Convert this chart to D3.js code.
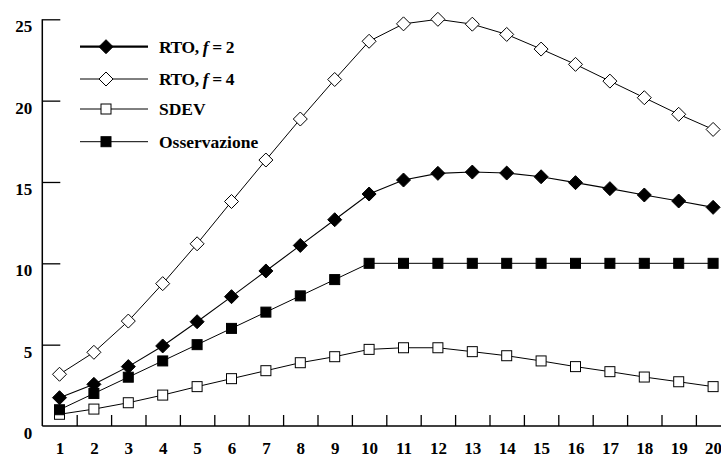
<!DOCTYPE html>
<html>
<head>
<meta charset="utf-8">
<script src="https://cdn.jsdelivr.net/npm/d3@7"></script>
<style>
  body { margin: 0; background: #fff; }
  svg { display: block; }
  text { font-family: "Liberation Serif", "Times New Roman", serif; font-weight: bold; fill: #000; }
</style>
</head>
<body>
<div id="chart"></div>
<script>
// x categories and series values
const steps = d3.range(1, 21);
const rtoF2 = [1.74, 2.56, 3.65, 4.92, 6.41, 7.95, 9.53, 11.1, 12.68, 14.26,
               15.12, 15.53, 15.61, 15.55, 15.32, 14.96, 14.59, 14.2, 13.83, 13.44];
const rtoF4 = [3.18, 4.53, 6.45, 8.75, 11.2, 13.8, 16.35, 18.87, 21.3, 23.65,
               24.72, 25.0, 24.7, 24.07, 23.17, 22.23, 21.2, 20.18, 19.16, 18.23];
const sdev = [0.72, 1.04, 1.43, 1.9, 2.42, 2.91, 3.4, 3.89, 4.26, 4.71,
              4.81, 4.81, 4.57, 4.32, 4.0, 3.65, 3.34, 3.01, 2.72, 2.42];
const osservazione = [1, 2, 3, 4, 5, 6, 7, 8, 9, 10,
                      10, 10, 10, 10, 10, 10, 10, 10, 10, 10];
const yTicks = [0, 5, 10, 15, 20, 25];

const W = 721, H = 457;
const svg = d3.select("#chart").append("svg").attr("width", W).attr("height", H);

// category i sits in the middle of its slot; slot edges carry the ticks
const x = d3.scaleLinear().domain([0.5, 20.5]).range([42.3, 730.3]);
const y = d3.scaleLinear().domain([0, 25]).range([426, 19.3]);

// y axis: inward ticks, labels sit a little below their tick
const yAxis = svg.append("g")
  .attr("transform", `translate(${x(0.5)},0)`)
  .call(d3.axisLeft(y).tickValues(yTicks).tickSize(-18).tickPadding(10).tickFormat(d3.format("d")));
yAxis.select(".domain").remove();
yAxis.selectAll(".tick line").attr("stroke", "#000").attr("stroke-width", 1.3)
  .filter(d => d === 0).remove();
yAxis.selectAll(".tick text").attr("dy", "0.74em").style("font-size", "17px").style("font-family", null);

svg.append("line")
  .attr("x1", x(0.5)).attr("x2", x(0.5))
  .attr("y1", y(25)).attr("y2", y(0))
  .attr("stroke", "#000").attr("stroke-width", 1.5);

// x axis
const xAxis = svg.append("g")
  .attr("transform", `translate(0,${y(0)})`)
  .call(d3.axisBottom(x).tickValues(steps).tickSize(0).tickPadding(16).tickFormat(d3.format("d")));
xAxis.select(".domain").remove();
xAxis.selectAll(".tick text").style("font-size", "17px").style("font-family", null);

const xTicks = svg.append("g")
  .attr("transform", `translate(0,${y(0)})`)
  .call(d3.axisBottom(x).tickValues(d3.range(1.5, 20.5, 1)).tickSize(-11).tickFormat(""));
xTicks.select(".domain").remove();
xTicks.selectAll(".tick line").attr("stroke", "#000").attr("stroke-width", 1.3);

svg.append("line")
  .attr("x1", x(0.5)).attr("x2", W)
  .attr("y1", y(0)).attr("y2", y(0))
  .attr("stroke", "#000").attr("stroke-width", 1.5);

// series
const series = [
  { name: "RTO, f = 2", values: rtoF2, shape: "diamond", fill: "#000", lw: 1.1, legendLw: 2.2 },
  { name: "RTO, f = 4", values: rtoF4, shape: "diamond", fill: "#fff", lw: 1, legendLw: 1 },
  { name: "SDEV", values: sdev, shape: "square", fill: "#fff", lw: 1, legendLw: 1 },
  { name: "Osservazione", values: osservazione, shape: "square", fill: "#000", lw: 1, legendLw: 1 }
];

const line = d3.line().x((d, i) => x(steps[i])).y(d => y(d));

function marker(g, s, cx, cy) {
  if (s.shape === "diamond") {
    const r = 7;
    g.append("path")
      .attr("d", `M${cx},${cy - r}L${cx + r},${cy}L${cx},${cy + r}L${cx - r},${cy}Z`)
      .attr("fill", s.fill).attr("stroke", "#000").attr("stroke-width", 1);
  } else {
    const h = 5;
    g.append("rect")
      .attr("x", cx - h).attr("y", cy - h).attr("width", 2 * h).attr("height", 2 * h)
      .attr("fill", s.fill).attr("stroke", "#000").attr("stroke-width", 1);
  }
}

// draw bottom series first so the diamonds sit on top
[series[2], series[3], series[0], series[1]].forEach(s => {
  const g = svg.append("g");
  g.append("path")
    .attr("d", line(s.values))
    .attr("fill", "none").attr("stroke", "#000").attr("stroke-width", s.lw);
  s.values.forEach((v, i) => marker(g, s, x(steps[i]), y(v)));
});

// legend
const legendY = [46.7, 79, 109, 141.7];
const legend = svg.append("g");
series.forEach((s, i) => {
  const g = legend.append("g");
  const ly = legendY[i];
  g.append("line").attr("x1", 80).attr("x2", 148).attr("y1", ly).attr("y2", ly)
    .attr("stroke", "#000").attr("stroke-width", s.legendLw);
  marker(g, s, 106, ly);
  const t = g.append("text").attr("x", 159).attr("y", ly + 6).style("font-size", "17.5px");
  if (s.name.startsWith("RTO")) {
    const parts = s.name.split("f");
    t.style("letter-spacing", "-0.4px");
    t.append("tspan").text(parts[0]);
    t.append("tspan").style("font-style", "italic").text("f");
    t.append("tspan").text(parts[1]);
  } else {
    t.text(s.name);
  }
});
</script>
</body>
</html>
